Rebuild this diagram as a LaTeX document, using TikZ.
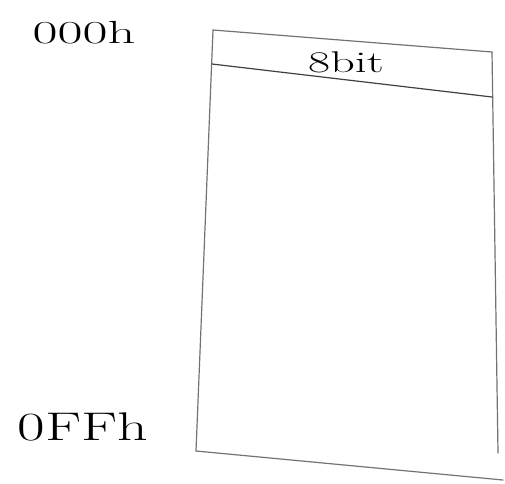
\documentclass[tikz,border=0pt]{standalone}
\begin{document}
\begin{tikzpicture}[x=1pt,y=-1pt,
  edge/.style={draw=black!55,line width=1.2pt,line cap=round},
  lbl/.style={inner sep=0pt,anchor=base}]
\useasboundingbox[fill=white] (0,0) rectangle (505,483);
\coordinate (tl) at (213,30);
\coordinate (tr) at (492,52);
\coordinate (hl) at (212,64);
\coordinate (hr) at (492,97);
\coordinate (bl) at (196,451);
\coordinate (br) at (498,453);
\coordinate (be) at (503,480);
\draw[edge] (tl) -- (tr);
\draw[edge] (tl) -- (bl);
\draw[edge] (tr) -- (br);
\draw[edge,black!75] (hl) -- (hr);
\draw[edge] (bl) -- (be);
\node[lbl,font=\fontsize{30}{30}\selectfont,xscale=1.6] (bits) at (346,72) {8bit};
\node[lbl,font=\fontsize{32}{32}\selectfont,xscale=1.7] (top) at (84,43) {000h};
\node[lbl,font=\fontsize{40}{40}\selectfont,xscale=1.5] (bot) at (83,440) {0FFh};
\end{tikzpicture}
\end{document}
